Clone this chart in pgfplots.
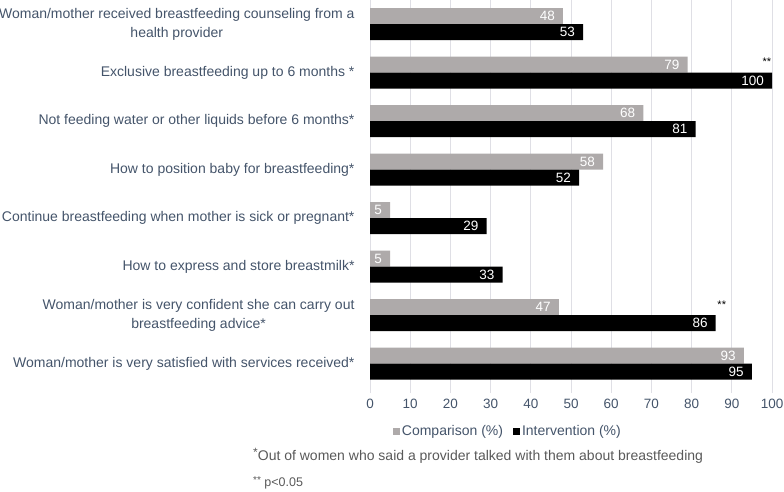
\documentclass[border=0pt]{standalone}
\usepackage{pgfplots}
\pgfplotsset{compat=1.18}
\usepackage{fontspec}
\setmainfont{Liberation Sans}
\definecolor{lab}{HTML}{44546A}
\definecolor{cmp}{HTML}{AEAAAA}
\definecolor{gridc}{HTML}{DFDFE5}
\definecolor{foot}{HTML}{595959}
\begin{document}
\begin{tikzpicture}[x=1bp,y=1bp]
\useasboundingbox (0,0) rectangle (784,492);
\begin{axis}[
  at={(370bp,104bp)}, anchor=south west,
  scale only axis, width=402bp, height=388bp,
  xbar, bar width=16bp,
  xmin=0, xmax=100, ymin=-0.5, ymax=7.5, y dir=reverse,
  xtick={0,10,...,100}, ytick={0,...,7},
  yticklabels={{Woman/mother received breastfeeding counseling from a\\health provider},
    {Exclusive breastfeeding up to 6 months *},
    {Not feeding water or other liquids before 6 months*},
    {How to position baby for breastfeeding*},
    {Continue breastfeeding when mother is sick or pregnant*},
    {How to express and store breastmilk*},
    {Woman/mother is very confident she can carry out\\breastfeeding advice*},
    {Woman/mother is very satisfied with services received*}},
  axis line style={draw=none},
  xmajorgrids, grid style={draw=gridc, line width=0.8bp},
  xtick pos=bottom, ytick style={draw=none},
  xtick style={draw=gridc, line width=0.8bp}, tick align=outside, major tick length=5bp,
  xticklabel style={font=\fontsize{13.5bp}{15bp}\selectfont, text=lab, yshift=-3bp},
  yticklabel style={align=center, font=\fontsize{14bp}{19bp}\selectfont, text=lab, xshift=-7bp},
  /pgf/number format/assume math mode=true,
  nodes near coords,
  nodes near coords style={anchor=east, inner sep=0pt, xshift=-8bp, text=white, font=\fontsize{13.5bp}{15bp}\selectfont},
  legend style={at={(0.343,-0.111)}, anchor=center, draw=none, fill=none, legend columns=2,
    font=\fontsize{14bp}{16bp}\selectfont, text=lab,
    /tikz/every even column/.append style={column sep=8bp}},
]
\addplot[fill=cmp, draw=none, bar shift=8bp,
  legend image code/.code={\fill[cmp] (0bp,-3.5bp) rectangle (7bp,3.5bp);}]
  coordinates {(48,0) (79,1) (68,2) (58,3) (5,4) (5,5) (47,6) (93,7)};
\addlegendentry{Comparison (\%)}
\addplot[fill=black, draw=none, bar shift=-8bp,
  legend image code/.code={\fill[black] (0bp,-3.5bp) rectangle (7bp,3.5bp);}]
  coordinates {(53,0) (100,1) (81,2) (52,3) (29,4) (33,5) (86,6) (95,7)};
\addlegendentry{Intervention (\%)}
\node[anchor=base, inner sep=0pt, font=\fontsize{11bp}{12bp}\selectfont] at (axis cs:98.7,0.845) {**};
\node[anchor=base, inner sep=0pt, font=\fontsize{11bp}{12bp}\selectfont] at (axis cs:87.5,5.87) {**};
\end{axis}
\node[anchor=base west, inner sep=0pt, text=foot, font=\fontsize{14bp}{16bp}\selectfont] at (253,31) {\raisebox{4bp}{\fontsize{12bp}{12bp}\selectfont *}Out of women who said a provider talked with them about breastfeeding};
\node[anchor=base west, inner sep=0pt, text=foot, font=\fontsize{12.5bp}{14bp}\selectfont] at (253,5) {\raisebox{3bp}{\fontsize{10bp}{10bp}\selectfont **} p<0.05};
\end{tikzpicture}
\end{document}
